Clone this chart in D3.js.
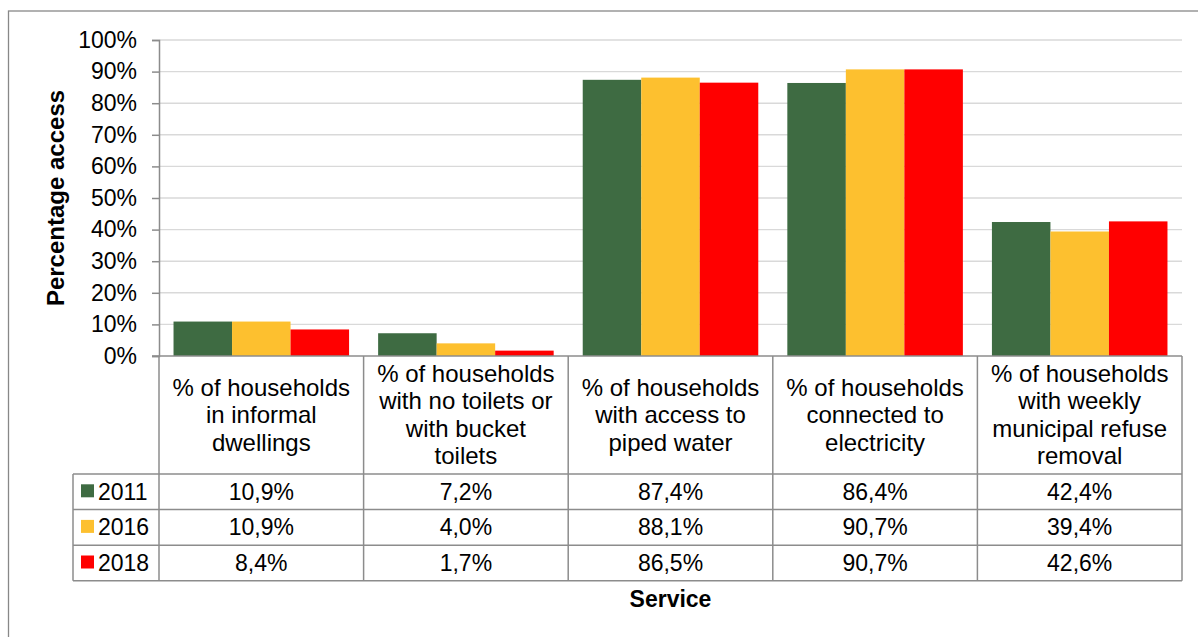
<!DOCTYPE html>
<html>
<head>
<meta charset="utf-8">
<script src="https://cdn.jsdelivr.net/npm/d3@7"></script>
<style>
    body { margin: 0; background: #ffffff; }
    svg { display: block; font-family: "Liberation Sans", Arial, sans-serif; }
</style>
</head>
<body>
<div id="chart"></div>
<script>
// chart data
const services = [
    ["% of households", "in informal", "dwellings"],
    ["% of households", "with no toilets or", "with bucket", "toilets"],
    ["% of households", "with access to", "piped water"],
    ["% of households", "connected to", "electricity"],
    ["% of households", "with weekly", "municipal refuse", "removal"]
];
const years = ["2011", "2016", "2018"];
const values2011 = [10.9, 7.2, 87.4, 86.4, 42.4];
const values2016 = [10.9, 4.0, 88.1, 90.7, 39.4];
const values2018 = [8.4, 1.7, 86.5, 90.7, 42.6];
const yTicks = [0, 10, 20, 30, 40, 50, 60, 70, 80, 90, 100];

function makeChart() {
    const series = [values2011, values2016, values2018];
    const colors = ["#3e6b42", "#fdc02f", "#ff0000"];
    const lineGrey = "#8c8c8c";
    const fontSize = 23;
    const headSize = 24;

    const width = 1198;
    const height = 637;
    const plotLeft = 159;
    const plotRight = 1182;
    const plotTop = 40;
    const plotBottom = 356;
    const headerBottom = 474;
    const rowH = 35.6;
    const tableLeft = 73;

    const svg = d3.select("div#chart")
        .append("svg")
        .attr("width", width)
        .attr("height", height);

    // outer chart border
    svg.append("rect")
        .attr("x", 8.5).attr("y", 11)
        .attr("width", width + 20).attr("height", height + 20)
        .attr("fill", "none")
        .attr("stroke", "#888888")
        .attr("stroke-width", 1.3);

    const x0 = d3.scaleBand()
        .domain(d3.range(services.length))
        .range([plotLeft, plotRight]);
    const gap = x0.bandwidth() * 0.071;
    const x1 = d3.scaleBand()
        .domain(years)
        .range([gap, x0.bandwidth() - gap]);
    const y = d3.scaleLinear()
        .domain([0, 100])
        .range([plotBottom, plotTop]);

    // gridlines
    svg.append("g")
        .selectAll("line")
        .data(yTicks.slice(1))
        .join("line")
        .attr("x1", plotLeft).attr("x2", plotRight)
        .attr("y1", d => y(d)).attr("y2", d => y(d))
        .attr("stroke", "#d9d9d9")
        .attr("stroke-width", 1.4);

    // bars
    years.forEach((yr, k) => {
        svg.append("g")
            .selectAll("rect")
            .data(series[k])
            .join("rect")
            .attr("x", (d, i) => x0(i) + x1(yr))
            .attr("y", d => y(d))
            .attr("width", x1.bandwidth())
            .attr("height", d => y(0) - y(d))
            .attr("fill", colors[k]);
    });

    // y axis
    const yAxis = svg.append("g")
        .attr("transform", "translate(" + plotLeft + ",0)")
        .call(d3.axisLeft(y).tickValues(yTicks).tickSize(7).tickPadding(15)
            .tickFormat(d => d + "%"));
    yAxis.select(".domain").attr("stroke", lineGrey).attr("stroke-width", 1.5);
    yAxis.selectAll(".tick line").attr("stroke", lineGrey).attr("stroke-width", 1.5);
    yAxis.selectAll(".tick text")
        .attr("fill", "#000")
        .style("font-size", fontSize + "px")
        .style("font-family", "Liberation Sans, Arial, sans-serif");

    // y axis title
    svg.append("text")
        .attr("transform", "translate(" + 63.5 + "," + ((plotTop + plotBottom) / 2) + ") rotate(-90)")
        .attr("text-anchor", "middle")
        .style("font-size", headSize + "px")
        .style("font-weight", "700")
        .text("Percentage access");

    // data table
    const table = svg.append("g");
    const tableBottom = headerBottom + rowH * years.length;

    // horizontal lines
    table.append("line")
        .attr("x1", plotLeft - 7).attr("x2", plotRight)
        .attr("y1", plotBottom).attr("y2", plotBottom)
        .attr("stroke", lineGrey).attr("stroke-width", 1.5);
    for (let r = 0; r <= years.length; r++) {
        table.append("line")
            .attr("x1", tableLeft).attr("x2", plotRight)
            .attr("y1", headerBottom + r * rowH).attr("y2", headerBottom + r * rowH)
            .attr("stroke", lineGrey).attr("stroke-width", 1.5);
    }
    // vertical lines
    table.append("line")
        .attr("x1", tableLeft).attr("x2", tableLeft)
        .attr("y1", headerBottom).attr("y2", tableBottom)
        .attr("stroke", lineGrey).attr("stroke-width", 1.5);
    for (let i = 0; i <= services.length; i++) {
        const xx = i < services.length ? x0(i) : plotRight;
        table.append("line")
            .attr("x1", xx).attr("x2", xx)
            .attr("y1", plotBottom).attr("y2", tableBottom)
            .attr("stroke", lineGrey).attr("stroke-width", 1.5);
    }

    // header text
    const lineH = 27.5;
    const headerMid = (plotBottom + headerBottom) / 2;
    services.forEach((lines, i) => {
        const t = table.append("text")
            .attr("text-anchor", "middle")
            .style("font-size", headSize + "px");
        lines.forEach((ln, j) => {
            t.append("tspan")
                .attr("x", x0(i) + x0.bandwidth() / 2)
                .attr("y", headerMid + 8 + (j - (lines.length - 1) / 2) * lineH)
                .text(ln);
        });
    });

    // rows
    const fmt = d3.format(".1f");
    years.forEach((yr, k) => {
        const cy = headerBottom + rowH * k + rowH / 2;
        table.append("rect")
            .attr("x", 81).attr("y", cy - 7.5)
            .attr("width", 13).attr("height", 13)
            .attr("fill", colors[k]);
        table.append("text")
            .attr("x", 98).attr("y", cy + 8)
            .style("font-size", fontSize + "px")
            .text(yr);
        series[k].forEach((v, i) => {
            table.append("text")
                .attr("x", x0(i) + x0.bandwidth() / 2)
                .attr("y", cy + 8)
                .attr("text-anchor", "middle")
                .style("font-size", fontSize + "px")
                .text(fmt(v).replace(".", ",") + "%");
        });
    });

    // x axis title
    svg.append("text")
        .attr("x", (plotLeft + plotRight) / 2)
        .attr("y", 607)
        .attr("text-anchor", "middle")
        .style("font-size", fontSize + "px")
        .style("font-weight", "700")
        .text("Service");
}
makeChart();
</script>
</body>
</html>
